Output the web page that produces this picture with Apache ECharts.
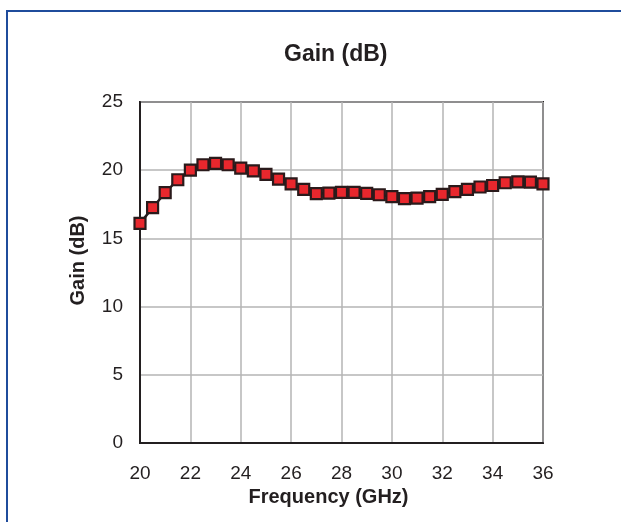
<!DOCTYPE html>
<html>
<head>
<meta charset="utf-8">
<script src="https://cdn.jsdelivr.net/npm/echarts@6/dist/echarts.min.js"></script>
<style>
  html, body { margin: 0; padding: 0; background: #fff; }
  #main { width: 621px; height: 522px; }
  #frame {
    position: absolute; left: 6px; top: 10px; width: 640px; height: 540px;
    border-left: 2px solid #1f4c9c; border-top: 2px solid #1f4c9c;
    pointer-events: none;
  }
</style>
</head>
<body>
<div id="main"></div>
<div id="frame"></div>
<script>
// frequency points, GHz (0.5 GHz steps)
var freqGHz = [20, 20.5, 21, 21.5, 22, 22.5, 23, 23.5, 24, 24.5, 25, 25.5, 26, 26.5, 27, 27.5,
  28, 28.5, 29, 29.5, 30, 30.5, 31, 31.5, 32, 32.5, 33, 33.5, 34, 34.5, 35, 35.5, 36];
// gain, dB
var gainDb = [16.1, 17.25, 18.35, 19.3, 20.0, 20.4, 20.5, 20.4, 20.15, 19.95, 19.7, 19.35, 19.0, 18.6, 18.28, 18.32,
  18.38, 18.38, 18.3, 18.2, 18.06, 17.92, 17.96, 18.06, 18.23, 18.43, 18.6, 18.77, 18.88, 19.08, 19.14, 19.12, 19.0];

var textColor = '#231f20';
var points = freqGHz.map(function (f, i) { return [f, gainDb[i]]; });

var chart = echarts.init(document.getElementById('main'));
chart.setOption({
  animation: false,
  title: {
    text: 'Gain (dB)',
    left: 279,
    top: 38,
    textStyle: { fontFamily: 'Liberation Sans', fontSize: 23, fontWeight: 'bold', color: textColor }
  },
  grid: { left: 140, right: 78, top: 102, bottom: 79, show: true, borderColor: textColor, borderWidth: 2 },
  xAxis: {
    type: 'value',
    min: 20, max: 36, interval: 2,
    name: 'Frequency (GHz)',
    nameLocation: 'middle',
    nameGap: 39,
    nameTextStyle: { fontFamily: 'Liberation Sans', fontSize: 20, fontWeight: 'bold', color: textColor, padding: [0, 26, 0, 0] },
    axisLine: { show: true, lineStyle: { color: textColor, width: 2 } },
    axisTick: { show: false },
    axisLabel: { margin: 21, fontFamily: 'Liberation Sans', fontSize: 19, color: textColor },
    splitLine: { show: true, lineStyle: { color: '#b5b5b5', width: 1.5 } }
  },
  yAxis: {
    type: 'value',
    min: 0, max: 25, interval: 5,
    name: 'Gain (dB)',
    nameLocation: 'middle',
    nameGap: 52,
    nameRotate: 90,
    nameTextStyle: { fontFamily: 'Liberation Sans', fontSize: 20, fontWeight: 'bold', color: textColor, padding: [0, 0, 0, 24] },
    axisLine: { show: true, lineStyle: { color: textColor, width: 2 } },
    axisTick: { show: false },
    axisLabel: { margin: 17, fontFamily: 'Liberation Sans', fontSize: 19, color: textColor },
    splitLine: { show: true, lineStyle: { color: '#b5b5b5', width: 1.5 } }
  },
  series: [{
    name: 'Gain',
    type: 'line',
    data: points,
    symbol: 'rect',
    symbolSize: 11,
    lineStyle: { color: textColor, width: 2.5 },
    itemStyle: { color: '#e8272d', borderColor: '#2a1a1b', borderWidth: 2.2 }
  }]
});
</script>
</body>
</html>
